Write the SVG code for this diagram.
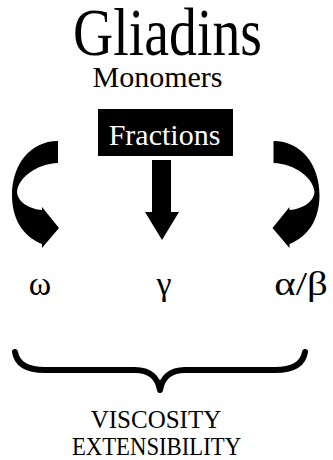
<svg xmlns="http://www.w3.org/2000/svg" width="333" height="460" viewBox="0 0 333 460">
<rect width="333" height="460" fill="#fff"/>
<g id="gliadins"><text font-family="Times New Roman" font-size="68" text-anchor="middle" transform="translate(167.5,55) scale(0.82,1)">Gliadins</text></g>
<g id="monomers"><text font-family="Times New Roman" x="157.5" y="87" font-size="30" text-anchor="middle">Monomers</text></g>
<g id="fractions"><rect x="98" y="109" width="135" height="47" fill="#000"/><text font-family="Times New Roman" x="164.5" y="145" font-size="30" fill="#fff" text-anchor="middle">Fractions</text></g>
<g id="connectors">
<path d="M58,141 L58,163 C36,164 18,178 17,192 C18,203 30,209 42,210 L42,207 L59,228 L42,248 L42,244 C22,236 12,218 12,195 C12,165 30,141 58,141 Z"/>
<path transform="translate(331.5,0) scale(-1,1)" d="M58,141 L58,163 C36,164 18,178 17,192 C18,203 30,209 42,210 L42,207 L59,228 L42,248 L42,244 C22,236 12,218 12,195 C12,165 30,141 58,141 Z"/>
<path d="M152,160 L171,160 L171,212 L179,212 L162,240 L145,212 L152,212 Z"/>
<path d="M15,352 C17,365 28,370 45,370 L135,370 C150,370 158,378 160,390 C162,378 170,370 185,370 L275,370 C292,370 303,365 305,352" fill="none" stroke="#000" stroke-width="6" stroke-linecap="round" stroke-linejoin="round"/>
</g>
<g id="omega"><text font-family="Times New Roman" x="40" y="295" font-size="34" text-anchor="middle">ω</text></g>
<g id="gamma"><text font-family="Times New Roman" x="164" y="295" font-size="34" text-anchor="middle">γ</text></g>
<g id="alphabeta"><text font-family="Times New Roman" font-size="34" text-anchor="middle" transform="translate(301,295) scale(1.2,1)">α/β</text></g>
<g id="properties">
<text font-family="Times New Roman" x="156" y="428" font-size="25" text-anchor="middle">VISCOSITY</text>
<text font-family="Times New Roman" font-size="25" text-anchor="middle" transform="translate(156.5,455) scale(0.91,1)">EXTENSIBILITY</text>
</g>
</svg>
